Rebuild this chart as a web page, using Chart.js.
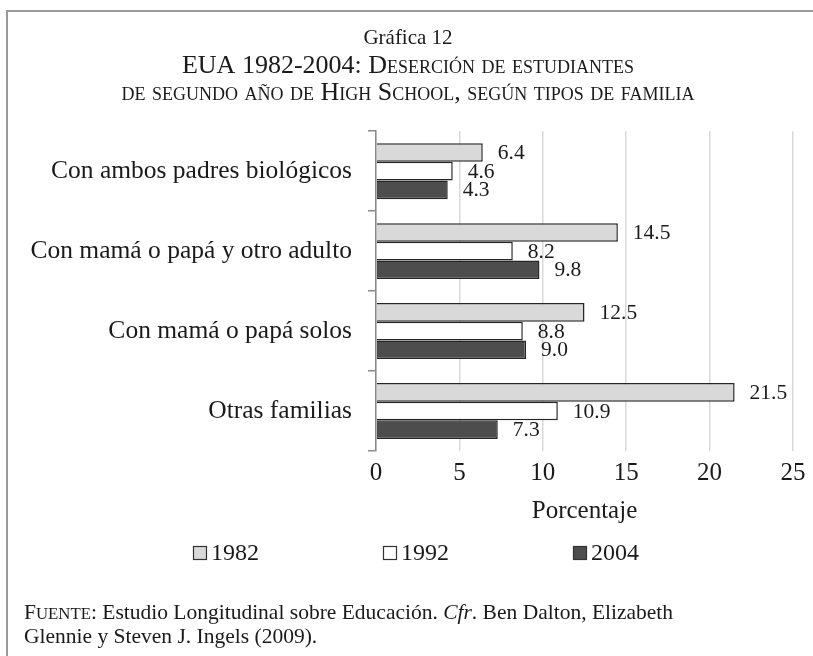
<!DOCTYPE html>
<html><head><meta charset="utf-8">
<script src="https://cdn.jsdelivr.net/npm/chart.js@4.4.1/dist/chart.umd.min.js"></script>
<style>html,body{margin:0;padding:0;background:#fff}#wrap{width:813px;height:656px;position:relative}</style>
</head><body><div id="wrap"><canvas id="c" width="813" height="656"></canvas></div>
<script>
// ---- data ----
const categories = ['Con ambos padres biológicos', 'Con mamá o papá y otro adulto', 'Con mamá o papá solos', 'Otras familias'];
const seriesNames = ['1982', '1992', '2004'];
const values1982 = [6.4, 14.5, 12.5, 21.5];
const values1992 = [4.6, 8.2, 8.8, 10.9];
const values2004 = [4.3, 9.8, 9.0, 7.3];
const xTickValues = [0, 5, 10, 15, 20, 25];
const titleText = 'Gráfica 12';
const subtitleLines = ['EUA 1982-2004: Deserción de estudiantes', 'de segundo año de High School, según tipos de familia'];
const axisTitleText = 'Porcentaje';
const sourceLine1 = [['F', 'n'], ['UENTE', 'sc'], [': Estudio Longitudinal sobre Educación. ', 'n'], ['Cfr', 'i'], ['. Ben Dalton, Elizabeth', 'n']];
const sourceLine2 = [['Glennie y Steven J. Ingels (2009).', 'n']];

// ---- styles ----
const FAM = "'Liberation Serif', 'Times New Roman', serif";
const TXT = '#1a1a1a';
const fills = ['#d9d9d9', '#ffffff', '#4d4d4d'];
const seriesValues = [values1982, values1992, values2004];

const frame = {
  id: 'frame',
  beforeDraw(chart) {
    const c = chart.ctx; c.save();
    c.strokeStyle = '#9a9a9a'; c.lineWidth = 2;
    c.beginPath(); c.moveTo(7, 656); c.lineTo(7, 11); c.lineTo(813, 11); c.stroke();
    c.restore();
  }
};

const valueLabels = {
  id: 'valueLabels',
  afterDatasetsDraw(chart) {
    const c = chart.ctx; c.save();
    c.font = '21.5px ' + FAM; c.fillStyle = TXT; c.textBaseline = 'middle'; c.textAlign = 'left';
    chart.data.datasets.forEach((ds, i) => {
      chart.getDatasetMeta(i).data.forEach((bar, j) => {
        c.fillText(ds.data[j].toFixed(1), bar.x + 15, bar.y + 1);
      });
    });
    c.restore();
  }
};

const customLegend = {
  id: 'customLegend',
  afterDraw(chart) {
    const c = chart.ctx; c.save();
    const y = 553, startX = 193, step = 190, box = 14;
    c.font = '24px ' + FAM; c.textBaseline = 'middle'; c.textAlign = 'left';
    chart.data.datasets.forEach((ds, i) => {
      const x = startX + i * step;
      c.fillStyle = ds.backgroundColor; c.fillRect(x, y - box / 2, box, box);
      c.strokeStyle = '#333'; c.lineWidth = 1.2; c.strokeRect(x + 0.5, y - box / 2 + 0.5, box - 1, box - 1);
      c.fillStyle = TXT; c.fillText(ds.label, x + box + 4, y + 1);
    });
    c.restore();
  }
};

function drawRuns(c, runs, x, y, size) {
  runs.forEach(([t, s]) => {
    if (s === 'sc') { c.font = (size * 0.78) + 'px ' + FAM; c.fillText(t, x, y); x += c.measureText(t).width; }
    else { c.font = (s === 'i' ? 'italic ' : '') + size + 'px ' + FAM; c.fillText(t, x, y); x += c.measureText(t).width; }
  });
}
const sourceNote = {
  id: 'sourceNote',
  afterDraw(chart) {
    const c = chart.ctx; c.save();
    c.fillStyle = TXT; c.textBaseline = 'alphabetic'; c.textAlign = 'left';
    drawRuns(c, sourceLine1, 24, 619, 21.5);
    drawRuns(c, sourceLine2, 24, 643, 21.5);
    c.restore();
  }
};

new Chart(document.getElementById('c'), {
  type: 'bar',
  data: {
    labels: categories,
    datasets: seriesNames.map((n, i) => ({
      label: n, data: seriesValues[i], backgroundColor: fills[i],
      borderColor: '#262626', borderWidth: 1.5,
      categoryPercentage: 0.7, barPercentage: 1.0
    }))
  },
  options: {
    indexAxis: 'y', responsive: false, animation: false, devicePixelRatio: 1,
    layout: { padding: { left: 23, right: 20, top: 0, bottom: 130 } },
    plugins: {
      legend: { display: false }, tooltip: { enabled: false },
      title: { display: true, text: titleText, color: TXT, font: { family: FAM, size: 21, weight: 'normal', lineHeight: 1.2 }, padding: { top: 26, bottom: 0 } },
      subtitle: { display: true, text: subtitleLines, color: TXT, font: { family: FAM, size: 26, weight: 'small-caps', lineHeight: 27 / 26 }, padding: { top: 1, bottom: 25 } }
    },
    scales: {
      x: {
        min: 0, max: 25,
        afterBuildTicks(scale) { scale.ticks = xTickValues.map(v => ({ value: v })); },
        grid: { color: '#d9d9d9', lineWidth: 1.5, drawTicks: false },
        border: { display: false },
        ticks: { color: TXT, font: { family: FAM, size: 25 }, padding: 7 },
        title: { display: true, text: axisTitleText, color: TXT, font: { family: FAM, size: 25 }, padding: { top: 1, bottom: 0 } }
      },
      y: {
        afterFit(scale) { scale.width = 376 - 23; },
        grid: { display: true, drawOnChartArea: false, drawTicks: true, tickLength: 8, color: '#8a8a8a', lineWidth: 1.5 },
        border: { display: true, color: '#8a8a8a', width: 1.5 },
        ticks: { color: TXT, font: { family: FAM, size: 25.5 }, padding: 16 }
      }
    }
  },
  plugins: [frame, valueLabels, customLegend, sourceNote]
});
</script></body></html>
